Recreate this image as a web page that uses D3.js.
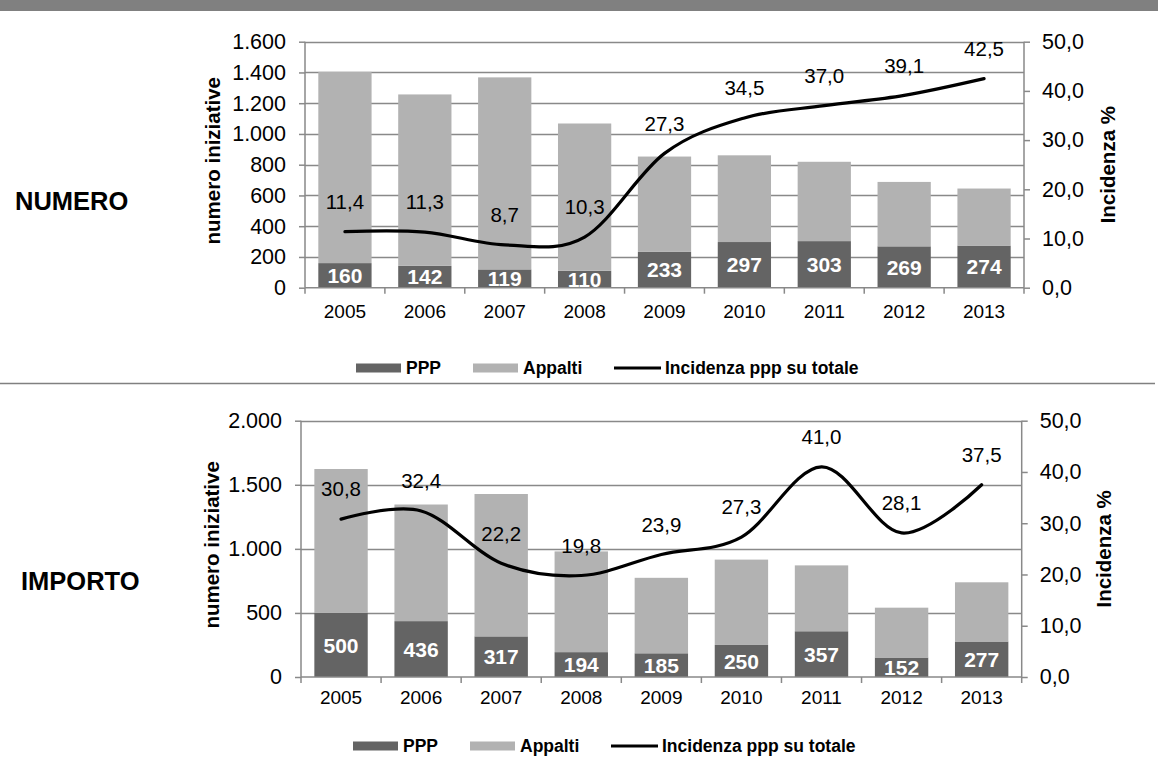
<!DOCTYPE html>
<html>
<head>
<meta charset="utf-8">
<script src="https://cdn.jsdelivr.net/npm/d3@7"></script>
<style>
  html, body { margin: 0; padding: 0; background: #fff; }
  svg { display: block; font-family: "Liberation Sans", Arial, sans-serif; }
</style>
</head>
<body>
<svg id="chart" width="1158" height="766"></svg>
<script>
// Years on the category axis
const years = ["2005", "2006", "2007", "2008", "2009", "2010", "2011", "2012", "2013"];

// NUMERO panel: number of initiatives
const numeroPPP      = [160, 142, 119, 110, 233, 297, 303, 269, 274];
const numeroAppalti  = [1244, 1115, 1249, 958, 620, 564, 516, 419, 371];
const numeroIncid    = [11.4, 11.3, 8.7, 10.3, 27.3, 34.5, 37.0, 39.1, 42.5];
const numeroTicks    = [0, 200, 400, 600, 800, 1000, 1200, 1400, 1600];

// IMPORTO panel: amounts
const importoPPP     = [500, 436, 317, 194, 185, 250, 357, 152, 277];
const importoAppalti = [1123, 910, 1111, 786, 589, 666, 514, 389, 462];
const importoIncid   = [30.8, 32.4, 22.2, 19.8, 23.9, 27.3, 41.0, 28.1, 37.5];
const importoTicks   = [0, 500, 1000, 1500, 2000];

// Right axis (percentage share)
const pctTicks = [0, 10, 20, 30, 40, 50];

// Legend entries
const legendLabels = ["PPP", "Appalti", "Incidenza ppp su totale"];

const itLocale = d3.formatLocale({ decimal: ",", thousands: ".", grouping: [3], currency: ["€", ""] });
const fmtInt = itLocale.format(",d");
const fmtPct = itLocale.format(",.1f");

const COL_PPP = "#646464";
const COL_APP = "#b2b2b2";
const COL_GRID = "#898989";

// Type sizes
const FS_TICK = 21.5;    // value-axis tick labels
const FS_YEAR = 19;      // category labels
const FS_BAR = 21;       // PPP values inside bars
const FS_PCT = 20.5;     // share labels above the line
const FS_TITLE = 20.5;   // axis titles
const FS_LEGEND = 17.5;
const FS_NAME = 25.5;    // panel names

const svg = d3.select("#chart");

// Header band and separator
svg.append("rect").attr("x", 0).attr("y", 0).attr("width", 1158).attr("height", 11).attr("fill", "#808080");
svg.append("line").attr("x1", 0).attr("x2", 1155).attr("y1", 383.5).attr("y2", 383.5)
  .attr("stroke", "#808080").attr("stroke-width", 1.5);

function drawPanel(g, cfg) {
  const x = d3.scaleBand().domain(years).range([cfg.left, cfg.right])
    .paddingInner(1 / 3).paddingOuter(1 / 6);
  const y = d3.scaleLinear().domain([0, cfg.yMax]).range([cfg.bottom, cfg.top]);
  const y2 = d3.scaleLinear().domain([0, 50]).range([cfg.bottom, cfg.top]);

  // Horizontal gridlines from the left-axis ticks
  g.append("g").selectAll("line").data(cfg.ticks.filter(d => d > 0)).join("line")
    .attr("x1", cfg.left).attr("x2", cfg.right)
    .attr("y1", d => Math.round(y(d)) + 0.5).attr("y2", d => Math.round(y(d)) + 0.5)
    .attr("stroke", COL_GRID).attr("stroke-width", 1.5);

  // Stacked bars: PPP at the base, Appalti on top
  const rows = years.map((yr, i) => ({ yr, ppp: cfg.ppp[i], app: cfg.app[i], pct: cfg.pct[i] }));
  const stack = d3.stack().keys(["ppp", "app"])(rows);
  const colors = { ppp: COL_PPP, app: COL_APP };
  g.append("g").selectAll("g").data(stack).join("g")
    .attr("fill", s => colors[s.key])
    .selectAll("rect").data(s => s).join("rect")
    .attr("x", d => x(d.data.yr))
    .attr("width", x.bandwidth())
    .attr("y", d => y(d[1]))
    .attr("height", d => y(d[0]) - y(d[1]));

  // PPP value labels inside the dark segment
  g.append("g").selectAll("text").data(rows).join("text")
    .attr("x", d => x(d.yr) + x.bandwidth() / 2)
    .attr("y", d => (y(0) + y(d.ppp)) / 2)
    .attr("dy", "0.36em")
    .attr("text-anchor", "middle")
    .attr("fill", "#fff").attr("font-weight", "bold").attr("font-size", FS_BAR)
    .text(d => fmtInt(d.ppp));

  // Left axis
  const axL = g.append("g").attr("transform", `translate(${cfg.left},0)`)
    .call(d3.axisLeft(y).tickValues(cfg.ticks).tickFormat(fmtInt).tickSize(6).tickPadding(13));
  // Right axis
  const axR = g.append("g").attr("transform", `translate(${cfg.right},0)`)
    .call(d3.axisRight(y2).tickValues(pctTicks).tickFormat(fmtPct).tickSize(6).tickPadding(12));
  [axL, axR].forEach(a => {
    a.select(".domain").attr("stroke", COL_GRID).attr("stroke-width", 1.5)
      .attr("d", `M0,${cfg.bottom}V${cfg.top}`);
    a.selectAll(".tick line").attr("stroke", COL_GRID).attr("stroke-width", 1.5);
    a.selectAll(".tick text").attr("font-size", FS_TICK).attr("fill", "#000")
      .attr("font-family", "Liberation Sans, Arial, sans-serif");
  });

  // Bottom axis: baseline, boundary ticks and year labels
  const step = x.step();
  const bounds = d3.range(years.length + 1).map(i => cfg.left + i * step);
  g.append("line").attr("x1", cfg.left).attr("x2", cfg.right)
    .attr("y1", cfg.bottom).attr("y2", cfg.bottom)
    .attr("stroke", COL_GRID).attr("stroke-width", 1.5);
  g.append("g").selectAll("line").data(bounds).join("line")
    .attr("x1", d => d).attr("x2", d => d)
    .attr("y1", cfg.bottom).attr("y2", cfg.bottom + 6)
    .attr("stroke", COL_GRID).attr("stroke-width", 1.5);
  g.append("g").selectAll("text").data(years).join("text")
    .attr("x", d => x(d) + x.bandwidth() / 2)
    .attr("y", cfg.bottom + cfg.xLabelGap)
    .attr("dy", "0.36em")
    .attr("text-anchor", "middle").attr("font-size", FS_YEAR)
    .text(d => d);

  // Smoothed share line
  const cx = d => x(d.yr) + x.bandwidth() / 2;
  g.append("path").datum(rows)
    .attr("fill", "none").attr("stroke", "#000").attr("stroke-width", 3.2)
    .attr("stroke-linecap", "round")
    .attr("d", d3.line().x(cx).y(d => y2(d.pct)).curve(d3.curveCardinal.tension(0)));

  // Share labels above each point
  g.append("g").selectAll("text").data(rows).join("text")
    .attr("x", cx)
    .attr("y", d => y2(d.pct) - 30)
    .attr("dy", "0.36em")
    .attr("text-anchor", "middle").attr("font-size", FS_PCT)
    .text(d => fmtPct(d.pct));

  // Axis titles
  const midY = (cfg.top + cfg.bottom) / 2;
  g.append("text")
    .attr("transform", `translate(${cfg.leftTitleX},${midY - 4}) rotate(-90)`)
    .attr("text-anchor", "middle").attr("dy", "0.36em")
    .attr("font-weight", "bold").attr("font-size", FS_TITLE)
    .text("numero iniziative");
  g.append("text")
    .attr("transform", `translate(${cfg.rightTitleX},${midY}) rotate(-90)`)
    .attr("text-anchor", "middle").attr("dy", "0.36em")
    .attr("font-weight", "bold").attr("font-size", FS_TITLE)
    .text("Incidenza %");

  // Panel name on the left
  g.append("text")
    .attr("x", cfg.nameX).attr("y", midY + cfg.nameDy).attr("dy", "0.36em")
    .attr("font-weight", "bold").attr("font-size", FS_NAME)
    .text(cfg.name);

  // Legend
  const lg = g.append("g").attr("transform", `translate(0,${cfg.legendY})`);
  const lx = cfg.legendX;
  lg.append("rect").attr("x", lx).attr("y", -4.5).attr("width", 45).attr("height", 9).attr("fill", COL_PPP);
  lg.append("text").attr("x", lx + 50).attr("dy", "0.36em").attr("font-weight", "bold").attr("font-size", FS_LEGEND).text(legendLabels[0]);
  lg.append("rect").attr("x", lx + 117).attr("y", -4.5).attr("width", 45).attr("height", 9).attr("fill", COL_APP);
  lg.append("text").attr("x", lx + 167).attr("dy", "0.36em").attr("font-weight", "bold").attr("font-size", FS_LEGEND).text(legendLabels[1]);
  lg.append("line").attr("x1", lx + 258).attr("x2", lx + 305).attr("y1", 0).attr("y2", 0)
    .attr("stroke", "#000").attr("stroke-width", 3);
  lg.append("text").attr("x", lx + 309).attr("dy", "0.36em").attr("font-weight", "bold").attr("font-size", FS_LEGEND).text(legendLabels[2]);
}

drawPanel(svg.append("g"), {
  name: "NUMERO", nameX: 15, nameDy: 36,
  left: 305, right: 1024, top: 41.7, bottom: 287.7,
  yMax: 1600, ticks: numeroTicks,
  ppp: numeroPPP, app: numeroAppalti, pct: numeroIncid,
  xLabelGap: 23.5, leftTitleX: 213, rightTitleX: 1108,
  legendX: 356, legendY: 368
});

drawPanel(svg.append("g"), {
  name: "IMPORTO", nameX: 21, nameDy: 32,
  left: 301, right: 1021.7, top: 420.7, bottom: 677,
  yMax: 2000, ticks: importoTicks,
  ppp: importoPPP, app: importoAppalti, pct: importoIncid,
  xLabelGap: 20, leftTitleX: 212, rightTitleX: 1104,
  legendX: 353, legendY: 746
});
</script>
</body>
</html>
